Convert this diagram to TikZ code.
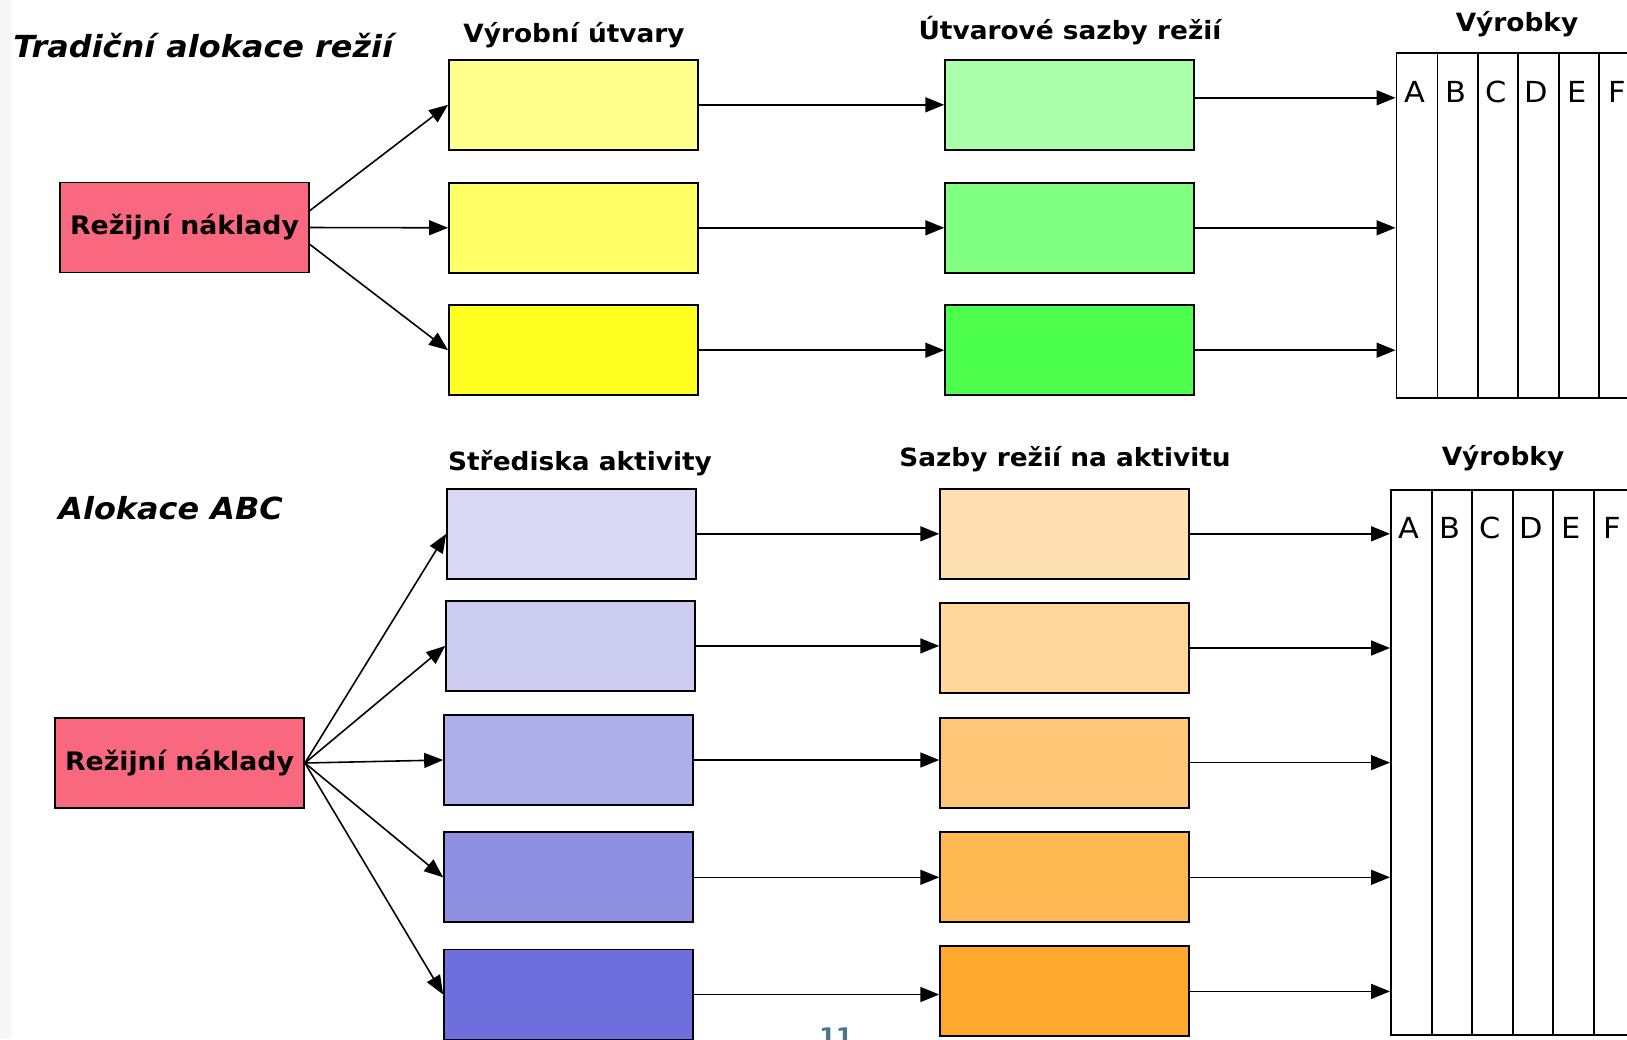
\documentclass[tikz,border=0pt]{standalone}
\usepackage{fontspec}
\setmainfont{DejaVu Sans}[FakeStretch=1.05]
\usepackage{tikz}
\usepackage{xcolor}
\usetikzlibrary{positioning}
\usetikzlibrary{arrows.meta}

\definecolor{rezred}{RGB}{250,104,128}
\definecolor{yelA}{RGB}{255,255,140}
\definecolor{yelB}{RGB}{255,255,102}
\definecolor{yelC}{RGB}{255,255,34}
\definecolor{grnA}{RGB}{170,255,170}
\definecolor{grnB}{RGB}{128,255,128}
\definecolor{grnC}{RGB}{76,255,76}
\definecolor{purA}{RGB}{216,216,245}
\definecolor{purB}{RGB}{204,204,240}
\definecolor{purC}{RGB}{174,174,235}
\definecolor{purD}{RGB}{144,144,226}
\definecolor{purE}{RGB}{110,110,220}
\definecolor{oraA}{RGB}{255,224,179}
\definecolor{oraB}{RGB}{255,214,155}
\definecolor{oraC}{RGB}{255,198,120}
\definecolor{oraD}{RGB}{255,184,82}
\definecolor{oraE}{RGB}{255,168,48}
\definecolor{pagenum}{RGB}{72,118,143}

\tikzset{
    box/.style={draw, line width=1.1pt, minimum width=4.98cm, minimum height=1.8cm, inner sep=0pt},
    arr/.style={-{Triangle[length=0.38cm,width=0.3cm]}, line width=0.9pt},
    head/.style={font=\bfseries\fontsize{14.3pt}{16pt}\selectfont},
    title/.style={font=\bfseries\itshape\fontsize{17.3pt}{20pt}\selectfont, anchor=west, inner sep=0pt},
    letter/.style={font=\fontsize{16.5pt}{18pt}\selectfont},
    prod/.style={draw, line width=1.1pt, anchor=north west, minimum width=5cm, inner sep=0pt}
}

\begin{document}
\begin{tikzpicture}[x=0.02cm, y=-0.02cm]
    \useasboundingbox (0,0) rectangle (1627,1039);
    \clip (0,0) rectangle (1627,1039);
    \fill[black!3] (0,0) rectangle (12,1039);

    % tradicni alokace
    \node[title] (titleA) at (13,46) {Tradiční alokace režií};
    \node[box, fill=rezred] (rezA) at (184.5,227.5) {\bfseries\fontsize{14.5pt}{16pt}\selectfont Režijní náklady};

    \node[box, fill=yelA] (yelA) at (573.5,104.8) {};
    \node[box, fill=yelB] (yelB) at (573.5,227.8) {};
    \node[box, fill=yelC] (yelC) at (573.5,350.2) {};
    \node[box, fill=grnA] (grnA) at (1069.7,104.8) {};
    \node[box, fill=grnB] (grnB) at (1069.7,227.8) {};
    \node[box, fill=grnC] (grnC) at (1069.7,350.2) {};

    \node[head] (headYel) at (574,35) {Výrobní útvary};
    \node[head] (headGrn) at (1070,31) {Útvarové sazby režií};
    \node[head] (headTabA) at (1517,24) {Výrobky};

    \node[prod, minimum height=6.9cm] (tabA) at (1395.5,52) {};
    \foreach \cx in {1437.5,1477.9,1518.3,1558.7,1599.1}
        \draw[line width=1.1pt] (\cx,52) -- (\cx,397);
    \foreach \l/\cx in {A/1414.5,B/1455.7,C/1496.1,D/1536.5,E/1576.9,F/1617.3}
        \node[letter] (tabA\l) at (\cx,92) {\l};

    \draw[arr] ([yshift=0.34cm]rezA.east) -- (yelA.west);
    \draw[arr] (rezA.east) -- (yelB.west);
    \draw[arr] ([yshift=-0.34cm]rezA.east) -- (yelC.west);
    \draw[arr] (yelA.east) -- (yelA.east -| grnA.west);
    \draw[arr] (yelB.east) -- (yelB.east -| grnB.west);
    \draw[arr] (yelC.east) -- (yelC.east -| grnC.west);
    \draw[arr] ([yshift=0.14cm]grnA.east) -- ([yshift=0.14cm]grnA.east -| tabA.west);
    \draw[arr] (grnB.east) -- (grnB.east -| tabA.west);
    \draw[arr] (grnC.east) -- (grnC.east -| tabA.west);

    % alokace ABC
    \node[title] (titleB) at (58,508) {Alokace ABC};
    \node[box, fill=rezred] (rezB) at (179.5,763) {\bfseries\fontsize{14.5pt}{16pt}\selectfont Režijní náklady};

    \node[box, fill=purA] (purA) at (571.7,533.8) {};
    \node[box, fill=purB] (purB) at (570.7,645.9) {};
    \node[box, fill=purC] (purC) at (568.6,760) {};
    \node[box, fill=purD] (purD) at (568.6,877.3) {};
    \node[box, fill=purE] (purE) at (568.6,994.5) {};
    \node[box, fill=oraA] (oraA) at (1064.7,533.8) {};
    \node[box, fill=oraB] (oraB) at (1064.7,648) {};
    \node[box, fill=oraC] (oraC) at (1064.7,762.6) {};
    \node[box, fill=oraD] (oraD) at (1064.7,877.3) {};
    \node[box, fill=oraE] (oraE) at (1064.7,991.4) {};

    \node[head] (headPur) at (580,463) {Střediska aktivity};
    \node[head] (headOra) at (1065,459) {Sazby režií na aktivitu};
    \node[head] (headTabB) at (1503,458) {Výrobky};

    \node[prod, minimum height=10.9cm] (tabB) at (1390,489) {};
    \foreach \cx in {1431.8,1472.3,1512.8,1553.3,1593.8}
        \draw[line width=1.1pt] (\cx,489) -- (\cx,1034);
    \foreach \l/\cx in {A/1409,B/1450,C/1490.5,D/1531,E/1571.5,F/1612}
        \node[letter] (tabB\l) at (\cx,528) {\l};

    \draw[arr] (rezB.east) -- (purA.west);
    \draw[arr] (rezB.east) -- (purB.west);
    \draw[arr] (rezB.east) -- (purC.west);
    \draw[arr] (rezB.east) -- (purD.west);
    \draw[arr] (rezB.east) -- (purE.west);
    \draw[arr] (purA.east) -- (purA.east -| oraA.west);
    \draw[arr] (purB.east) -- (purB.east -| oraB.west);
    \draw[arr] (purC.east) -- (purC.east -| oraC.west);
    \draw[arr] (purD.east) -- (purD.east -| oraD.west);
    \draw[arr] (purE.east) -- (purE.east -| oraE.west);
    \draw[arr] (oraA.east) -- (oraA.east -| tabB.west);
    \draw[arr] (oraB.east) -- (oraB.east -| tabB.west);
    \draw[arr] (oraC.east) -- (oraC.east -| tabB.west);
    \draw[arr] (oraD.east) -- (oraD.east -| tabB.west);
    \draw[arr] (oraE.east) -- (oraE.east -| tabB.west);

    \node[font=\bfseries\fontsize{13pt}{13pt}\selectfont, text=pagenum, anchor=north, inner sep=0pt] (pageNo) at (836,1027) {11};
\end{tikzpicture}
\end{document}
